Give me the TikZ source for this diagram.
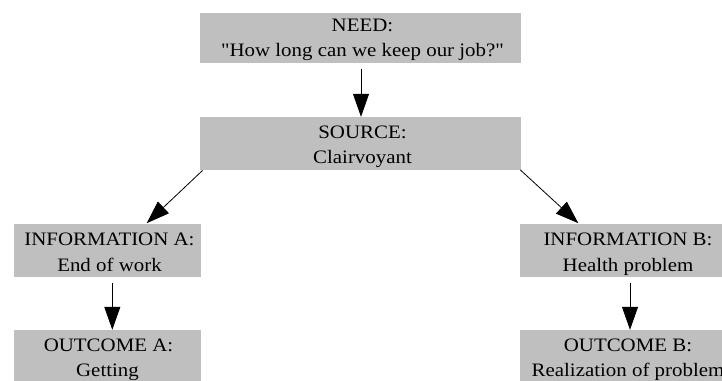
\documentclass[tikz,border=0pt]{standalone}
\usepackage{fontspec}
\setmainfont{Liberation Serif}[FakeStretch=1.1, Ligatures=TeXOff]
\usetikzlibrary{arrows.meta}
\definecolor{boxgray}{RGB}{191,191,191}
\tikzset{
  box/.style={fill=boxgray, draw=none, inner sep=0pt, minimum height=52.6pt},
  txt/.style={anchor=base, inner sep=0pt, font=\fontsize{19}{24}\selectfont},
  arr/.style={draw=black, line width=0.8pt, -{Triangle[length=23pt,width=16pt]}}
}
\begin{document}
\begin{tikzpicture}[x=1pt,y=1pt]
  \useasboundingbox (0,0) rectangle (722,-380);
  \clip (0,0) rectangle (722,-380);

  % boxes
  \node[box, minimum width=321pt, minimum height=50.5pt] (need) at (360.5,-38.2) {};
  \node[box, minimum width=321pt] (source) at (360.5,-143.3) {};
  \node[box, minimum width=187pt] (infoA) at (107.5,-250.4) {};
  \node[box, minimum width=187pt] (outA) at (107.5,-356.3) {};
  \node[box, minimum width=212pt] (infoB) at (626,-250.4) {};
  \node[box, minimum width=212pt] (outB) at (626,-356.3) {};

  % labels, one node per line
  \node[txt] (needL1) at ([xshift=2pt,yshift=-18.7pt]need.north) {NEED:};
  \node[txt] (needL2) at ([xshift=2pt,yshift=-44pt]need.north) {"How long can we keep our job?"};
  \node[txt] (sourceL1) at ([xshift=2pt,yshift=-22pt]source.north) {SOURCE:};
  \node[txt] (sourceL2) at ([xshift=2pt,yshift=-47pt]source.north) {Clairvoyant};
  \node[txt] (infoAL1) at ([xshift=2pt,yshift=-21.5pt]infoA.north) {INFORMATION A:};
  \node[txt] (infoAL2) at ([xshift=2pt,yshift=-47.3pt]infoA.north) {End of work};
  \node[txt] (outAL1) at ([xshift=1pt,yshift=-21.7pt]outA.north) {OUTCOME A:};
  \node[txt] (outAL2) at ([xshift=0pt,yshift=-47pt]outA.north) {Getting};
  \node[txt] (infoBL1) at ([xshift=2pt,yshift=-21.5pt]infoB.north) {INFORMATION B:};
  \node[txt] (infoBL2) at ([xshift=2pt,yshift=-47.3pt]infoB.north) {Health problem};
  \node[txt] (outBL1) at ([xshift=2pt,yshift=-21.7pt]outB.north) {OUTCOME B:};
  \node[txt] (outBL2) at ([xshift=2pt,yshift=-47pt]outB.north) {Realization of problem};

  % connectors
  \draw[arr] ([xshift=0.5pt,yshift=-5pt]need.south) -- ([xshift=0.5pt]source.north);
  \draw[arr] ([xshift=2.7pt,yshift=-0.7pt]source.south west) -- ([xshift=39.2pt,yshift=0.7pt]infoA.north);
  \draw[arr] ([xshift=-1pt]source.south east) -- ([xshift=-47.7pt,yshift=0.7pt]infoB.north);
  \draw[arr] ([xshift=4.8pt,yshift=-5.6pt]infoA.south) -- ([xshift=4.8pt]outA.north);
  \draw[arr] ([xshift=4pt,yshift=-5.6pt]infoB.south) -- ([xshift=4pt]outB.north);
\end{tikzpicture}
\end{document}
